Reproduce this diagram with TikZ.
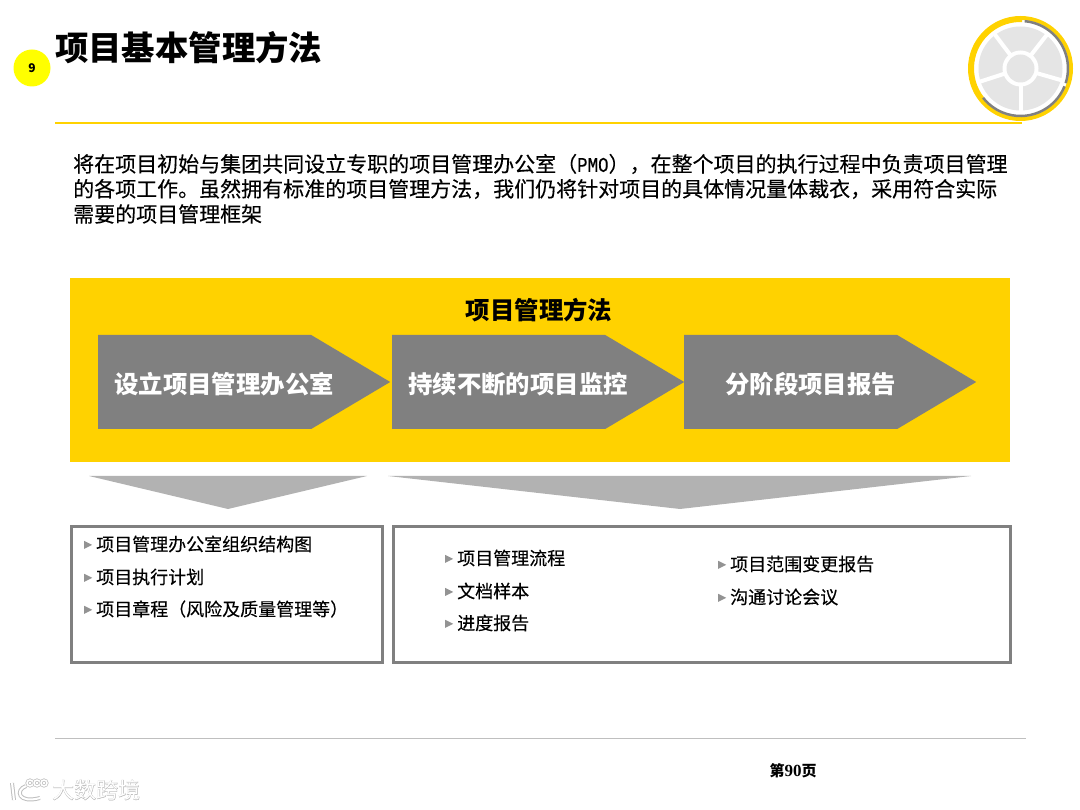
\documentclass[tikz,border=0pt]{standalone}
\usepackage{fontspec}
\usepackage{graphicx}
\setmainfont{Noto Sans CJK SC}
\newfontfamily\medfont[FakeBold=0.25]{Noto Sans CJK SC}
\newfontfamily\haloFont[FakeBold=1.6]{Noto Sans CJK SC}
\newfontfamily\pmofont[FakeBold=0.25]{Liberation Mono}
\newfontfamily\pagedigits{Liberation Serif}
\usetikzlibrary{shapes.symbols,positioning}
\definecolor{eyyellow}{RGB}{255,210,0}
\definecolor{numyellow}{RGB}{255,255,0}
\definecolor{arrowgrey}{RGB}{128,128,128}
\definecolor{framegrey}{RGB}{128,128,128}
\definecolor{wedgegrey}{RGB}{178,178,178}
\definecolor{wheelgrey}{RGB}{229,229,229}
\newcommand{\bul}{\tikz[baseline=-6pt]\fill[arrowgrey!85] (0,-4pt) -- (8pt,0) -- (0,4pt) -- cycle;\hspace{4pt}}
\tikzset{
  steparrow/.style={signal,signal to=east,signal pointer angle=61.5,fill=arrowgrey,inner sep=0pt,minimum width=292pt,minimum height=94pt,anchor=west},
  steplabel/.style={anchor=west,text=white,font=\fontsize{24.4}{26}\selectfont\bfseries,inner sep=0pt},
  listbox/.style={draw=framegrey,line width=3pt,fill=white,anchor=north west,minimum height=136pt},
  listitem/.style={anchor=west,inner sep=0pt,font=\fontsize{18}{20}\selectfont\medfont},
  bodyline/.style={anchor=west,inner sep=0pt,font=\fontsize{21}{24}\selectfont\medfont},
  spoke/.style={white,line width=4pt},
}
\begin{document}
\begin{tikzpicture}[x=1pt,y=-1pt]
\useasboundingbox (0,0) rectangle (1080,810);
% header
\node[anchor=west,inner sep=0pt,font=\fontsize{33.4}{36}\selectfont\bfseries] (title) at (55,48) {项目基本管理方法};
\node[circle,fill=numyellow,minimum size=37pt,inner sep=0pt,font=\fontsize{12}{13}\selectfont\bfseries] (num) at (32,68) {9};
\coordinate (rulea) at (55,123);
\coordinate (ruleb) at (1022,123);
\draw[eyyellow,line width=2pt] (rulea) -- (ruleb);
% wheel
\begin{scope}[shift={(1020.5,68.5)},y=1pt]
\fill[white] (0,0) circle (53);
\draw[eyyellow,line width=4pt] (0,0) circle (50.5);
\draw[eyyellow,line width=3pt] (-142:48) arc[start angle=-142,end angle=-272,radius=48];
\draw[arrowgrey,line width=2.5pt] (85:47.5) arc[start angle=85,end angle=-18,radius=47.5];
\draw[arrowgrey,line width=2.5pt] (-22:47.5) arc[start angle=-22,end angle=-142,radius=47.5];
\fill[wheelgrey] (0,0) circle (42);
\foreach \ang in {52,127,-90,198,-16}{
  \draw[spoke] (0,0) -- (\ang:44);
}
\fill[white] (0,0) circle (18);
\fill[wheelgrey] (0,0) circle (14);
\end{scope}
% intro text
\node[bodyline] (introa) at (73,164) {将在项目初始与集团共同设立专职的项目管理办公室（\scalebox{0.83}[1]{\pmofont PMO}），在整个项目的执行过程中负责项目管理};
\node[bodyline] (introb) at (73,189) {的各项工作。虽然拥有标准的项目管理方法，我们仍将针对项目的具体情况量体裁衣，采用符合实际};
\node[bodyline] (introc) at (73,214) {需要的项目管理框架};
% yellow panel
\fill[eyyellow] (70,278) rectangle (1010,462);
\node[font=\fontsize{24.4}{26}\selectfont\bfseries,inner sep=0pt] (head) at (539,310) {项目管理方法};
\node[steparrow] (stepa) at (98,382) {};
\node[steparrow] (stepb) at (392,382) {};
\node[steparrow] (stepc) at (684,382) {};
\node[steplabel] (laba) at (114,384) {设立项目管理办公室};
\node[steplabel] (labb) at (408,384) {持续不断的项目监控};
\node[steplabel] (labc) at (725,384) {分阶段项目报告};
% wedges
\fill[wedgegrey] (89,476) -- (367,476) -- (228,509) -- cycle;
\fill[wedgegrey] (388,476) -- (971,476) -- (680,509) -- cycle;
% boxes
\node[listbox,minimum width=311pt] (boxa) at (70,525) {};
\node[listbox,minimum width=617pt] (boxb) at (392,525) {};
\node[listitem] (ia) at (84,544) {\bul 项目管理办公室组织结构图};
\node[listitem] (ib) at (84,577) {\bul 项目执行计划};
\node[listitem] (ic) at (84,609) {\bul 项目章程（风险及质量管理等）};
\node[listitem] (id) at (445,558) {\bul 项目管理流程};
\node[listitem] (ie) at (445,591) {\bul 文档样本};
\node[listitem] (if) at (445,623) {\bul 进度报告};
\node[listitem] (ig) at (718,564) {\bul 项目范围变更报告};
\node[listitem] (ih) at (718,597) {\bul 沟通讨论会议};
% footer
\coordinate (foota) at (55,738);
\coordinate (footb) at (1026,738);
\draw[black!25,line width=1pt] (foota) -- (footb);
\node[inner sep=0pt,font=\fontsize{15}{16}\selectfont\bfseries] (page) at (793,771) {第{\pagedigits\bfseries\fontsize{17}{16}\selectfont 90}页};
% watermark
\node[anchor=west,inner sep=0pt,text=black!30,font=\fontsize{22}{24}\selectfont\haloFont] (markb) at (52,790) {大数跨境};
\node[anchor=west,inner sep=0pt,text=white,font=\fontsize{22}{24}\selectfont] (marka) at (52,790) {大数跨境};
\foreach \cx in {30,37,44}{
  \draw[black!25,line width=3pt] (\cx,783) circle (3);
  \draw[white,line width=1.5pt] (\cx,783) circle (3);
}
\draw[black!25,line width=4pt] (12,783) -- (14,800);
\draw[white,line width=2pt] (12,783) -- (14,800);
\draw[black!25,line width=4pt] (26,786) .. controls (15,790) and (18,804) .. (40,798);
\draw[white,line width=2pt] (26,786) .. controls (15,790) and (18,804) .. (40,798);
\end{tikzpicture}
\end{document}
